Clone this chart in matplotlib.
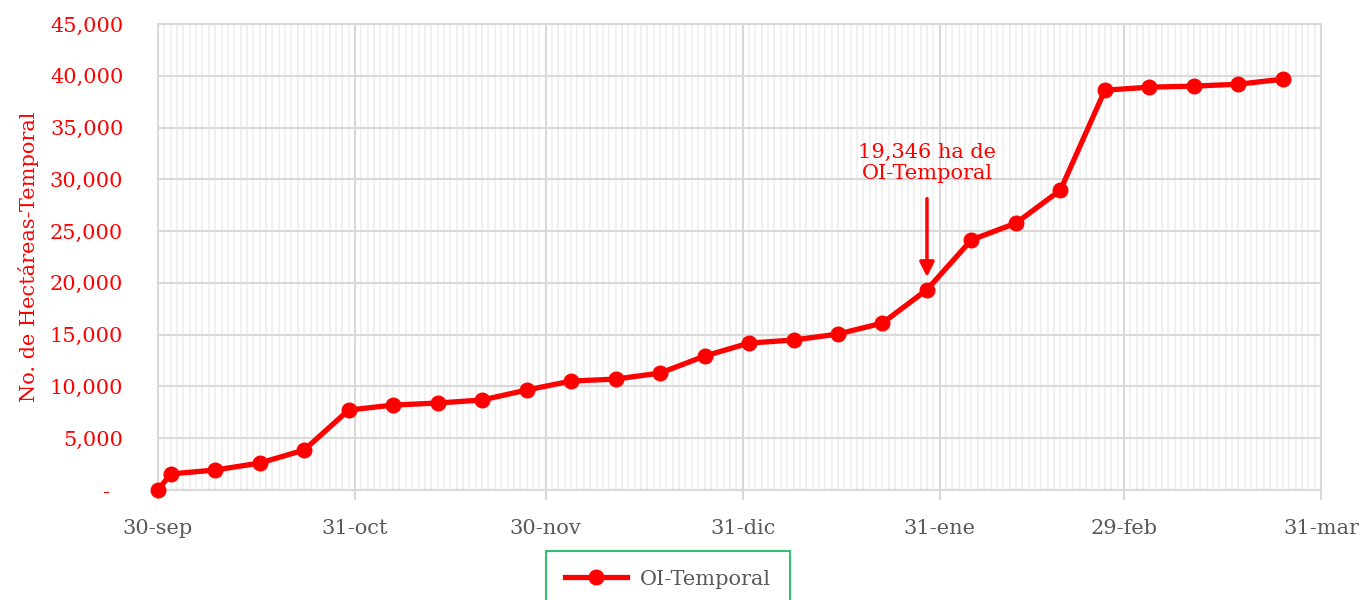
import matplotlib
matplotlib.use("Agg")
from matplotlib import pyplot as plt
import matplotlib.dates as mdates
import matplotlib.ticker as mticker
import pandas as pd

# Datos
fechas = ["2023-09-30", "2023-10-02", "2023-10-09", "2023-10-16", "2023-10-23",
          "2023-10-30", "2023-11-06", "2023-11-13", "2023-11-20", "2023-11-27",
          "2023-12-04", "2023-12-11", "2023-12-18", "2023-12-25", "2024-01-01",
          "2024-01-08", "2024-01-15", "2024-01-22", "2024-01-29", "2024-02-05",
          "2024-02-12", "2024-02-19", "2024-02-26", "2024-03-04", "2024-03-11",
          "2024-03-18", "2024-03-25"]
hectareas = [0, 1550, 1930, 2600, 3860,
             7720, 8200, 8400, 8690, 9650,
             10520, 10710, 11290, 12930, 14190,
             14480, 15060, 16120, 19346, 24150,
             25770, 28960, 38610, 38900, 39000,
             39190, 39670]
serie = "OI-Temporal"

ticks_x = ["2023-09-30", "2023-10-31", "2023-11-30", "2023-12-31",
           "2024-01-31", "2024-02-29", "2024-03-31"]
etiquetas_x = ["30-sep", "31-oct", "30-nov", "31-dic", "31-ene", "29-feb", "31-mar"]
ticks_y = [0, 5000, 10000, 15000, 20000, 25000, 30000, 35000, 40000, 45000]

nota = "19,346 ha de\nOI-Temporal"
fecha_nota = "2024-01-29"

plt.rcParams['font.family'] = ['DejaVu Serif']
ROJO = '#ff0000'
GRIS = '#d9d9d9'
FS = 15

x = pd.to_datetime(fechas)
xt = pd.to_datetime(ticks_x)

fig = plt.figure(figsize=(13.62, 6), dpi=100)
ax = fig.add_axes([158 / 1362, 1 - 490 / 600, (1321 - 158) / 1362, (490 - 24) / 600])

ax.plot(x, hectareas, color=ROJO, lw=3.8, marker='o', markersize=10.5,
        label=serie, zorder=5, clip_on=False)

ax.set_xlim(xt[0], xt[-1])
ax.set_ylim(0, 45000)

# Rejilla: diaria (menor) y fin de mes (mayor)
ax.xaxis.set_major_locator(mticker.FixedLocator(mdates.date2num(xt)))
ax.xaxis.set_major_formatter(mticker.FixedFormatter(etiquetas_x))
ax.xaxis.set_minor_locator(mdates.DayLocator())
ax.yaxis.set_major_locator(mticker.FixedLocator(ticks_y))
ax.yaxis.set_major_formatter(mticker.FuncFormatter(
    lambda v, p: "-  " if v == 0 else f"{v:,.0f}"))

ax.grid(which='minor', axis='x', color='#eeeeee', lw=1.1)
ax.grid(which='major', axis='x', color=GRIS, lw=1.5)
ax.grid(which='major', axis='y', color=GRIS, lw=1.5)
ax.set_axisbelow(True)

for s in ax.spines.values():
    s.set_color(GRIS)
    s.set_linewidth(1.5)

ax.tick_params(axis='x', which='major', length=7, width=1.5, color=GRIS,
               pad=14, labelsize=FS, labelcolor='#595959')
ax.tick_params(axis='x', which='minor', length=0)
ax.tick_params(axis='y', length=0, pad=25, labelsize=FS, labelcolor=ROJO)

ax.set_ylabel("No. de Hectáreas-Temporal", color=ROJO, fontsize=FS, labelpad=8)

# Anotación
xn = pd.to_datetime(fecha_nota)
ax.text(xn, 29600, nota, color=ROJO, fontsize=FS, ha='center', va='bottom',
        linespacing=1.15)
ax.annotate('', xy=(xn, 20300), xytext=(xn, 28400),
            arrowprops=dict(arrowstyle='-|>', color=ROJO, lw=2.5, mutation_scale=22))

leg = fig.legend(loc='upper center', bbox_to_anchor=(668 / 1362, 1 - 551 / 600),
                 fontsize=FS, frameon=True, fancybox=False, handlelength=3,
                 borderpad=0.9, handletextpad=0.6, borderaxespad=0)
leg.get_frame().set_edgecolor('#00b050')
leg.get_frame().set_linewidth(1.5)
for t in leg.get_texts():
    t.set_color('#595959')

fig.savefig("out.png", dpi=100)
